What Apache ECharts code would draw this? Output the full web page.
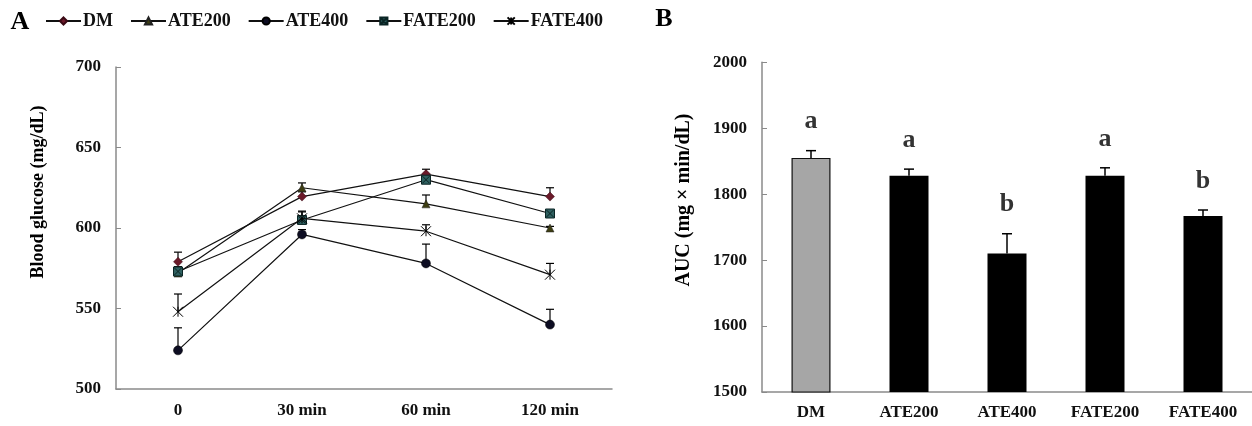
<!DOCTYPE html>
<html>
<head>
<meta charset="utf-8">
<script src="https://cdn.jsdelivr.net/npm/echarts@6/dist/echarts.min.js"></script>
<style>
html,body{margin:0;padding:0;background:#fff;}
#chart{width:1252px;height:426px;}
</style>
</head>
<body>
<div id="chart"></div>
<script>
// ---- Panel A data (blood glucose, mg/dL) ----
const timePoints = ['0', '30 min', '60 min', '120 min'];
const seriesNames = ['DM', 'ATE200', 'ATE400', 'FATE200', 'FATE400'];
const glucoseDM      = [579, 619.5, 633.5, 619.5];
const glucoseATE200  = [572, 625, 615, 600];
const glucoseATE400  = [524, 596, 578, 540];
const glucoseFATE200 = [573, 605, 630, 609];
const glucoseFATE400 = [548, 606, 598, 571];
const seDM      = [6, 3, 3, 5.5];
const seATE200  = [3, 3, 5.5, 1];
const seATE400  = [14, 3, 12, 9.5];
const seFATE200 = [3, 5.5, 3, 2];
const seFATE400 = [11, 4, 4, 7];
const glucoseTicks = [500, 550, 600, 650, 700];

// ---- Panel B data (AUC) ----
const groups = ['DM', 'ATE200', 'ATE400', 'FATE200', 'FATE400'];
const aucValues = [1855, 1828, 1710, 1828, 1767];
const aucSE = [11, 10, 30, 12, 9];
const aucLetters = ['a', 'a', 'b', 'a', 'b'];
const aucTicks = [1500, 1600, 1700, 1800, 1900, 2000];

const FONT = '"Liberation Serif", "Times New Roman", serif';
const chart = echarts.init(document.getElementById('chart'), null, {renderer: 'canvas'});

const glucose = [glucoseDM, glucoseATE200, glucoseATE400, glucoseFATE200, glucoseFATE400];
const glucoseSE = [seDM, seATE200, seATE400, seFATE200, seFATE400];

const symbolDefs = [
  {symbol: 'diamond', size: 9, style: {color: '#6b1a2a', borderColor: '#3a0a14', borderWidth: 0.5}},
  {symbol: 'triangle', size: 8, style: {color: '#3d3d12', borderColor: '#222', borderWidth: 0.5}},
  {symbol: 'circle', size: 9, style: {color: '#0d0d22', borderColor: '#000', borderWidth: 0.5}},
  {symbol: 'path://M0,0L10,0L10,10L0,10Z M1,1L9,9 M9,1L1,9', size: 9, style: {color: '#2f6060', borderColor: '#0a2424', borderWidth: 1}},
  {symbol: 'path://M0,0L10,10 M10,0L0,10 M5,0L5,10', size: 10, style: {color: 'transparent', borderColor: '#000', borderWidth: 1}}
];

const lineSeries = seriesNames.map((name, i) => ({
  name: name,
  type: 'line',
  xAxisIndex: 0,
  yAxisIndex: 0,
  data: glucose[i],
  symbol: symbolDefs[i].symbol,
  symbolSize: symbolDefs[i].size,
  showAllSymbol: true,
  lineStyle: {color: '#111', width: 1.2},
  itemStyle: symbolDefs[i].style,
  z: 5 + i,
  animation: false
}));

// error bars for panel A (upper only)
const errA = [];
glucose.forEach((arr, si) => arr.forEach((v, ci) => errA.push([ci, v, v + glucoseSE[si][ci]])));

function errRender(capHalf, lw) {
  return function (params, api) {
    const x = api.value(0);
    const p0 = api.coord([x, api.value(1)]);
    const p1 = api.coord([x, api.value(2)]);
    const style = {stroke: '#000', lineWidth: lw};
    return {
      type: 'group',
      children: [
        {type: 'line', shape: {x1: p0[0], y1: p0[1], x2: p1[0], y2: p1[1]}, style: style},
        {type: 'line', shape: {x1: p1[0] - capHalf, y1: p1[1], x2: p1[0] + capHalf, y2: p1[1]}, style: style}
      ]
    };
  };
}

const errB = aucValues.map((v, i) => [i, v, v + aucSE[i]]);
const letterData = aucValues.map((v, i) => [i, v + aucSE[i]]);

const axisLineStyle = {color: '#8a8a8a', width: 1.5};
const tickLabel = {color: '#111', fontFamily: FONT, fontWeight: 'bold', fontSize: 17};

const option = {
  backgroundColor: '#fff',
  animation: false,
  legend: {
    data: seriesNames,
    left: 40,
    top: 7,
    itemWidth: 35,
    itemHeight: 9,
    itemGap: 17,
    textStyle: {color: '#111', fontFamily: FONT, fontWeight: 'bold', fontSize: 18, padding: [0, 0, 0, -3]}
  },
  grid: [
    {left: 116, top: 67, width: 496, height: 322},
    {left: 762, top: 62.3, width: 493, height: 329.7}
  ],
  xAxis: [
    {
      type: 'category', gridIndex: 0, data: timePoints, boundaryGap: true,
      axisLine: {lineStyle: axisLineStyle}, axisTick: {show: false},
      axisLabel: Object.assign({margin: 13, interval: 0}, tickLabel)
    },
    {
      type: 'category', gridIndex: 1, data: groups, boundaryGap: true,
      axisLine: {lineStyle: axisLineStyle}, axisTick: {show: false},
      axisLabel: Object.assign({margin: 12, interval: 0}, tickLabel)
    }
  ],
  yAxis: [
    {
      type: 'value', gridIndex: 0, min: glucoseTicks[0], max: glucoseTicks[glucoseTicks.length - 1], interval: 50,
      axisLine: {show: true, lineStyle: axisLineStyle},
      axisTick: {show: true, inside: true, length: 5, lineStyle: {color: '#8a8a8a'}},
      splitLine: {show: false},
      axisLabel: Object.assign({margin: 15, formatter: v => String(v)}, tickLabel)
    },
    {
      type: 'value', gridIndex: 1, min: aucTicks[0], max: aucTicks[aucTicks.length - 1], interval: 100,
      axisLine: {show: true, lineStyle: axisLineStyle},
      axisTick: {show: true, inside: true, length: 5, lineStyle: {color: '#8a8a8a'}},
      splitLine: {show: false},
      axisLabel: Object.assign({margin: 15, formatter: v => String(v)}, tickLabel)
    }
  ],
  series: [
    {
      type: 'custom', xAxisIndex: 0, yAxisIndex: 0, data: errA,
      renderItem: errRender(4, 1.2), z: 2, silent: true
    }
  ].concat(lineSeries).concat([
    {
      type: 'bar', xAxisIndex: 1, yAxisIndex: 1, barWidth: 39,
      data: aucValues.map((v, i) => ({
        value: v,
        itemStyle: i === 0 ? {color: '#a6a6a6', borderColor: '#111', borderWidth: 1.2} : {color: '#000'}
      })),
      z: 2
    },
    {
      type: 'custom', xAxisIndex: 1, yAxisIndex: 1, data: errB,
      renderItem: errRender(5, 1.5), z: 3, silent: true
    },
    {
      type: 'scatter', xAxisIndex: 1, yAxisIndex: 1, data: letterData,
      symbolSize: 0, silent: true,
      label: {
        show: true, position: 'top', distance: 16,
        formatter: p => aucLetters[p.dataIndex],
        color: '#000', fontFamily: FONT, fontWeight: 'bold', fontSize: 26
      }
    }
  ]),
  graphic: [
    {type: 'text', x: 20, y: 22, style: {text: 'A', fill: '#000', font: 'bold 26px ' + FONT, align: 'center', verticalAlign: 'middle'}},
    {type: 'text', x: 664, y: 19, style: {text: 'B', fill: '#000', font: 'bold 26px ' + FONT, align: 'center', verticalAlign: 'middle'}},
    {type: 'text', x: 38, y: 192, rotation: Math.PI / 2, style: {text: 'Blood glucose (mg/dL)', fill: '#000', font: 'bold 18px ' + FONT, align: 'center', verticalAlign: 'middle'}},
    {type: 'text', x: 684, y: 200, rotation: Math.PI / 2, style: {text: 'AUC (mg \u00d7 min/dL)', fill: '#000', font: 'bold 20px ' + FONT, align: 'center', verticalAlign: 'middle'}}
  ]
};
chart.setOption(option);
</script>
</body>
</html>
